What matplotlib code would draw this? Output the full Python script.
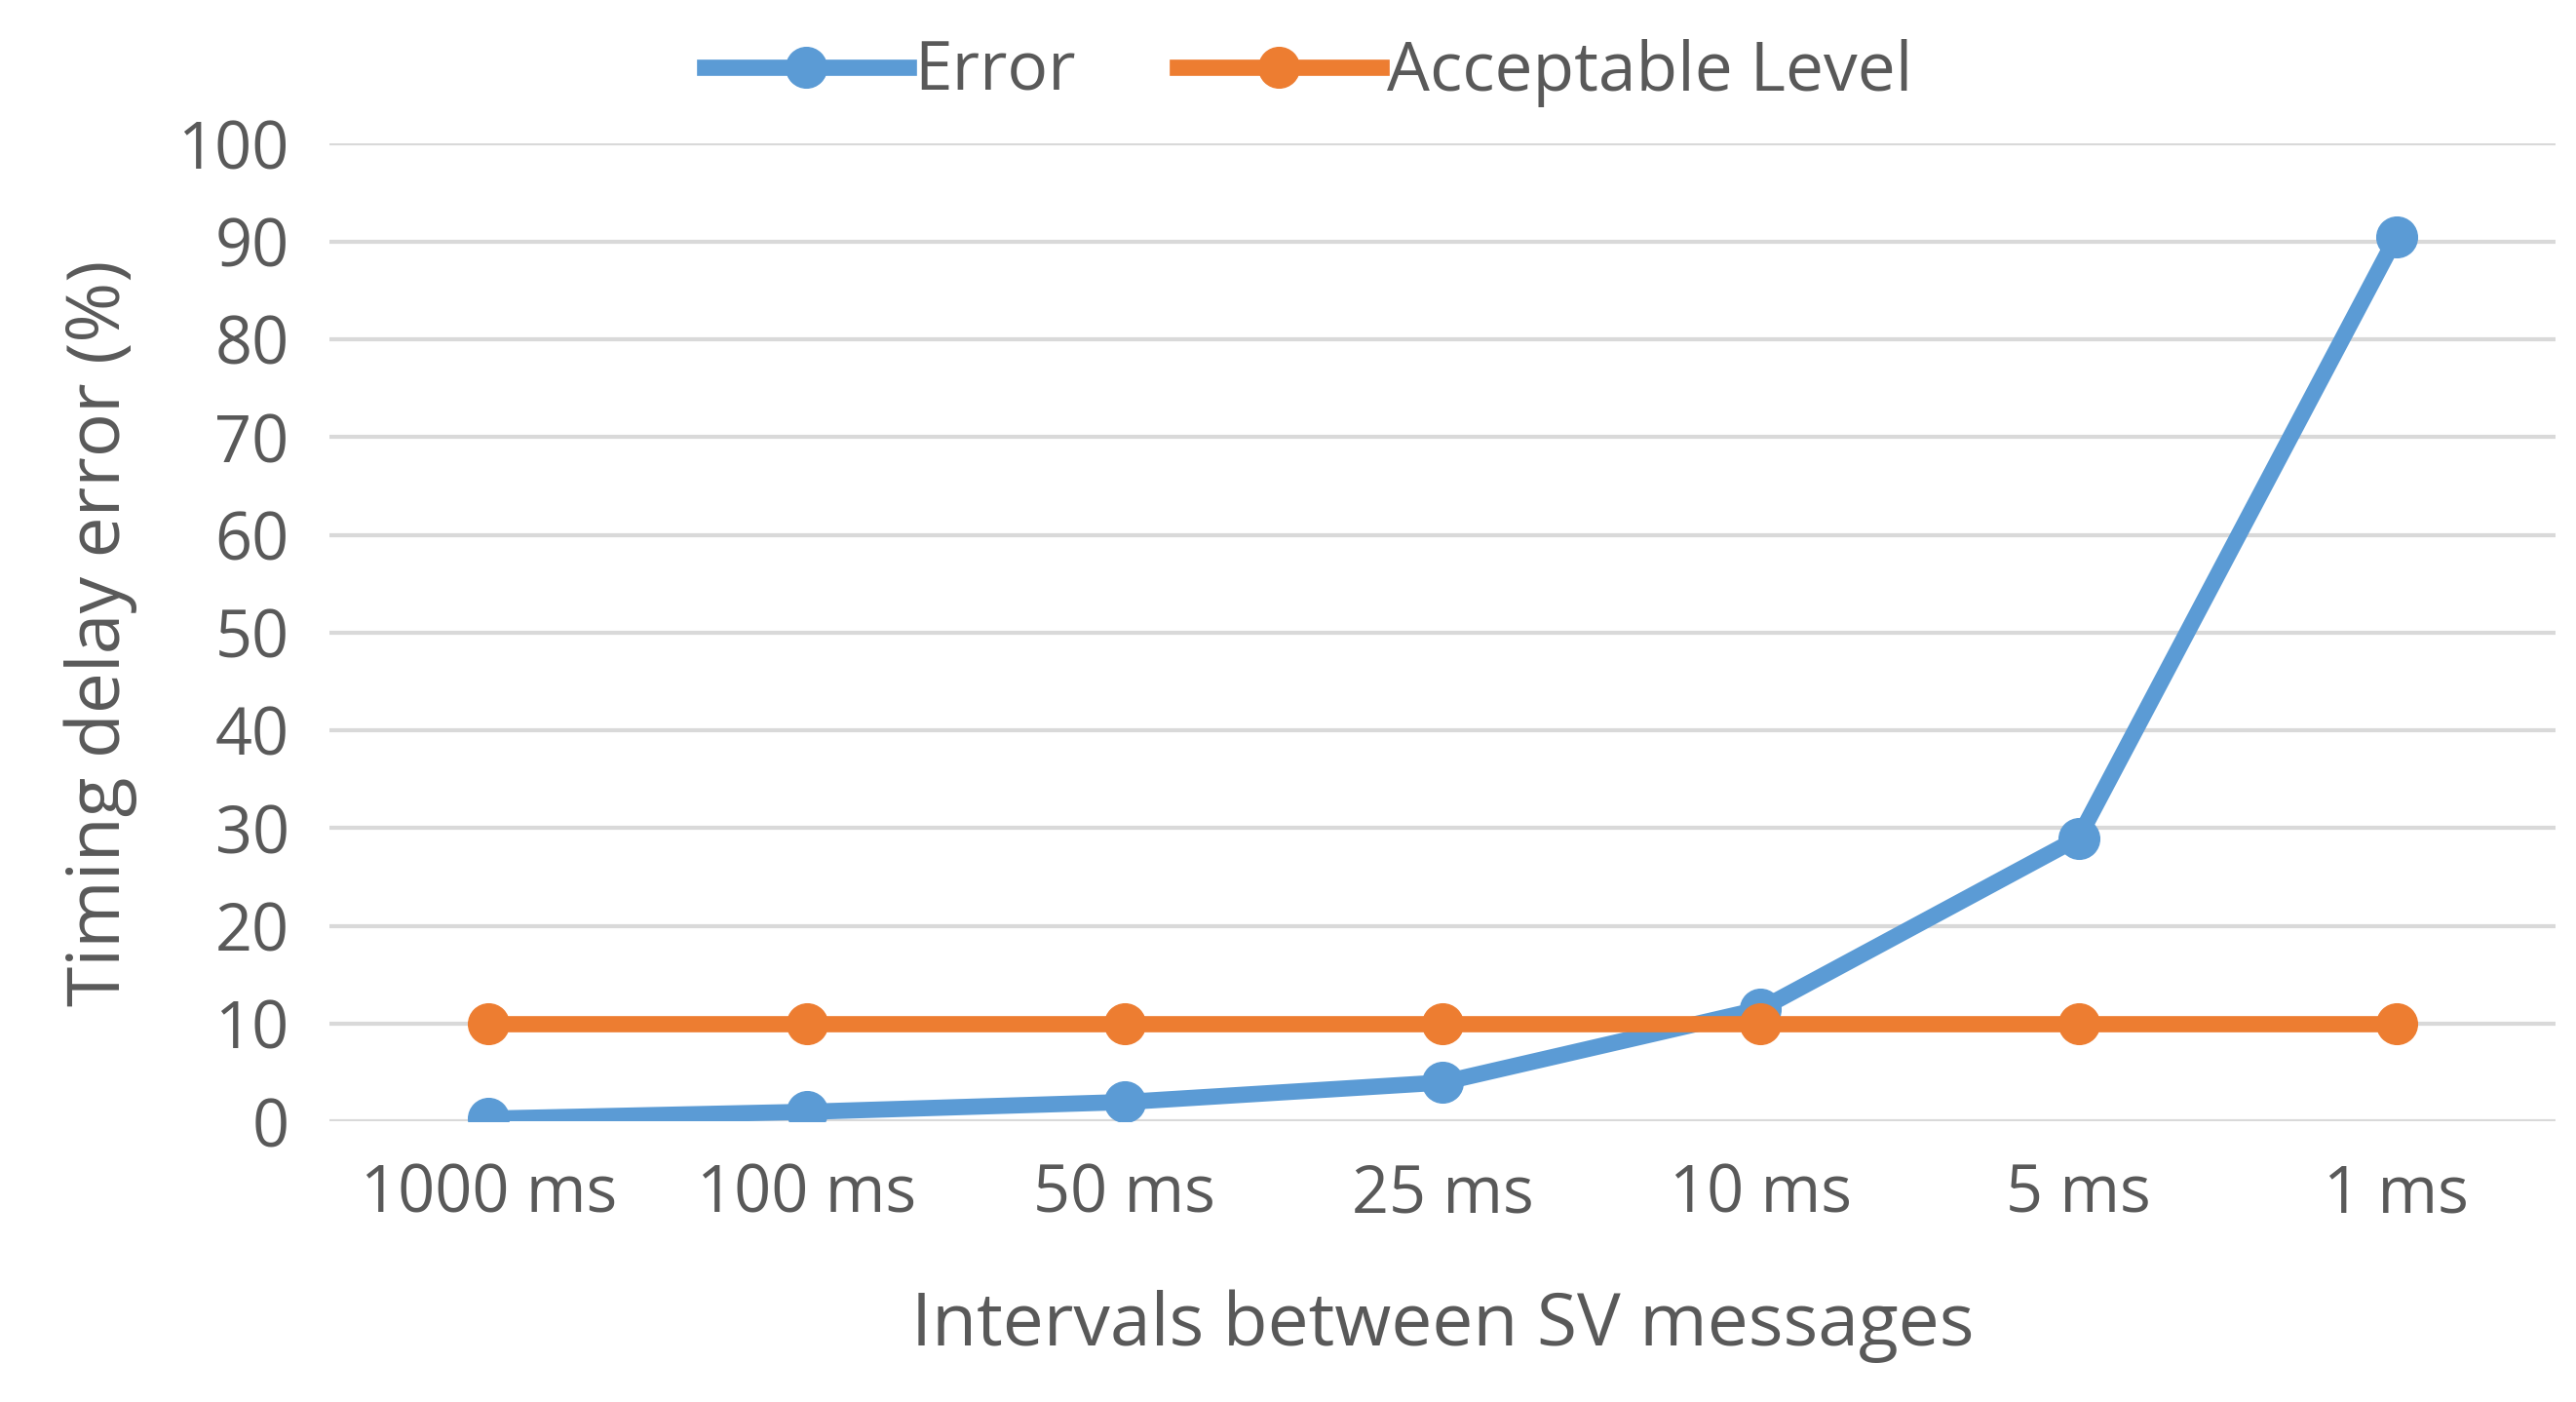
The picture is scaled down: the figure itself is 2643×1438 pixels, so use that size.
import matplotlib.pyplot as plt

categories = ["1000 ms", "100 ms", "50 ms", "25 ms", "10 ms", "5 ms", "1 ms"]
error = [0.3, 1.0, 2.0, 4.0, 11.5, 29.0, 90.5]
acceptable = [10, 10, 10, 10, 10, 10, 10]

plt.rcParams['font.family'] = ['Open Sans', 'DejaVu Sans']
grey = '#595959'

fig = plt.figure(figsize=(26.43, 14.38), dpi=100)
ax = fig.add_axes([0.128, 0.20, 0.864, 0.6975])

x = range(len(categories))
ax.plot(x, error, color='#5b9bd5', lw=12, marker='o', ms=30, label='Error', zorder=3)
ax.plot(x, acceptable, color='#ed7d31', lw=12, marker='o', ms=30, label='Acceptable Level', zorder=4)

ax.set_xlim(-0.5, 6.5)
ax.set_ylim(0, 100)
ax.set_yticks(range(0, 101, 10))
ax.set_xticks(list(x))
ax.set_xticklabels(categories)
ax.grid(axis='y', color='#d9d9d9', lw=3)
ax.set_axisbelow(True)
for s in ax.spines.values():
    s.set_visible(False)
ax.tick_params(length=0, labelsize=48, labelcolor=grey, pad=30)
ax.set_xlabel('Intervals between SV messages', fontsize=54, color=grey, labelpad=45)
ax.set_ylabel('Timing delay error (%)', fontsize=54, color=grey, labelpad=30)
ax.legend(loc='lower center', bbox_to_anchor=(0.44, 0.975), ncol=2, frameon=False,
          fontsize=50, labelcolor=grey, handlelength=3, handletextpad=0.1, columnspacing=1.5)

fig.savefig('out.png')
